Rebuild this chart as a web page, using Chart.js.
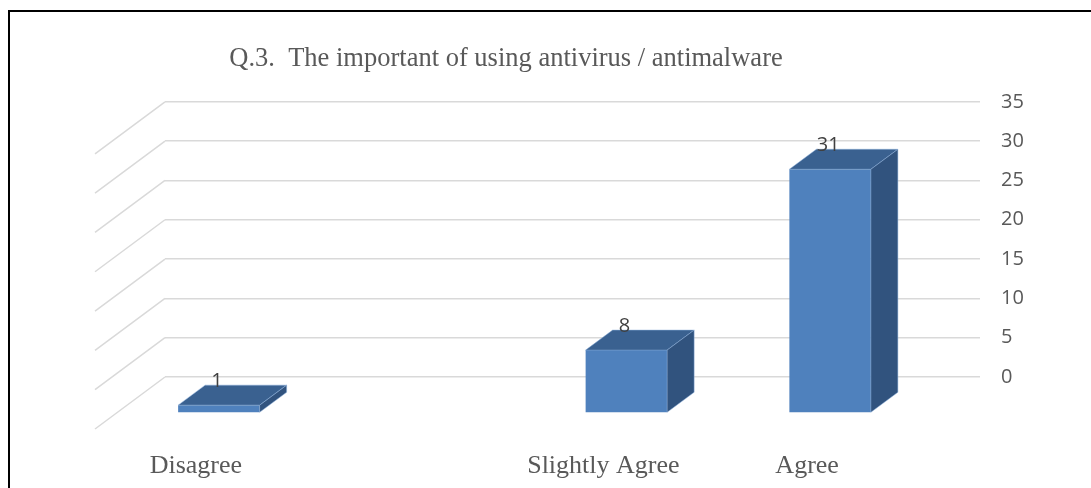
<!DOCTYPE html>
<html>
<head>
<meta charset="utf-8">
<script src="https://cdn.jsdelivr.net/npm/chart.js@4.4.1/dist/chart.umd.min.js"></script>
<style>
    html, body { margin: 0; padding: 0; background: #fff; overflow: hidden; }
    #wrap { position: relative; width: 1091px; height: 488px; }
    #frame {
        position: absolute; left: 8px; top: 10px; width: 1200px; height: 600px;
        border-left: 2px solid #000; border-top: 2px solid #000; pointer-events: none;
    }
</style>
</head>
<body>
<div id="wrap">
    <canvas id="chart" width="1091" height="488"></canvas>
    <div id="frame"></div>
</div>
<script>
// Q.3 survey answers
const categories = ['Disagree', '', 'Slightly Agree', 'Agree'];
const answerCounts = [1, null, 8, 31];
const yTicks = [0, 5, 10, 15, 20, 25, 30, 35];

// 3D look: front face shift from the back wall, and bar depth
const FRONT_DX = -48, FRONT_DY = 36;
const DEPTH_DX = 27, DEPTH_DY = -20;
const FLOOR_DX = -70, FLOOR_DY = 52;

const wallLines = {
    id: 'wallLines',
    beforeDatasetsDraw(chart) {
        const ctx = chart.ctx;
        const yScale = chart.scales.y;
        const left = chart.chartArea.left;
        ctx.save();
        ctx.strokeStyle = '#d9d9d9';
        ctx.lineWidth = 1.5;
        yTicks.forEach(v => {
            const y = yScale.getPixelForValue(v);
            ctx.beginPath();
            ctx.moveTo(left, y);
            ctx.lineTo(left + FLOOR_DX, y + FLOOR_DY);
            ctx.stroke();
        });
        ctx.restore();
        // shift bars towards the front of the floor
        ctx.save();
        ctx.translate(FRONT_DX, FRONT_DY);
    },
    afterDatasetsDraw(chart) {
        const ctx = chart.ctx;
        const meta = chart.getDatasetMeta(0);
        meta.data.forEach((bar, i) => {
            if (answerCounts[i] === null) return;
            const { x, y, base, width } = bar.getProps(['x', 'y', 'base', 'width'], true);
            const l = x - width / 2, r = x + width / 2;

            ctx.strokeStyle = 'rgba(140,175,220,0.5)';
            ctx.lineWidth = 1;
            // top face
            ctx.fillStyle = '#3a6190';
            ctx.beginPath();
            ctx.moveTo(l, y);
            ctx.lineTo(r, y);
            ctx.lineTo(r + DEPTH_DX, y + DEPTH_DY);
            ctx.lineTo(l + DEPTH_DX, y + DEPTH_DY);
            ctx.closePath();
            ctx.fill();
            ctx.stroke();
            // side face
            ctx.fillStyle = '#31537e';
            ctx.beginPath();
            ctx.moveTo(r, y);
            ctx.lineTo(r + DEPTH_DX, y + DEPTH_DY);
            ctx.lineTo(r + DEPTH_DX, base + DEPTH_DY);
            ctx.lineTo(r, base);
            ctx.closePath();
            ctx.fill();
            ctx.stroke();

            // value label
            ctx.fillStyle = '#404040';
            ctx.font = '20px "Open Sans"';
            ctx.textAlign = 'center';
            ctx.textBaseline = 'middle';
            ctx.fillText(String(answerCounts[i]), x - 2, y - 24);
        });
        ctx.restore();
    }
};

const ctx = document.getElementById('chart').getContext('2d');
new Chart(ctx, {
    type: 'bar',
    data: {
        labels: categories,
        datasets: [{
            data: answerCounts,
            backgroundColor: '#4f81bd',
            borderWidth: 0,
            barPercentage: 0.4,
            categoryPercentage: 1.0,
            clip: false,
            yAxisID: 'y'
        }]
    },
    options: {
        responsive: false,
        animation: false,
        layout: { padding: { left: -28, right: 51, top: 0, bottom: 0 } },
        plugins: {
            legend: { display: false },
            tooltip: { enabled: false },
            title: {
                display: true,
                text: 'Q.3.  The important of using antivirus / antimalware',
                color: '#595959',
                font: { family: '"Liberation Serif"', size: 26.5, weight: 'normal' },
                padding: { top: 43, bottom: 27 }
            }
        },
        scales: {
            x: {
                grid: { display: false },
                border: { display: false },
                ticks: {
                    color: '#595959',
                    font: { family: '"Liberation Serif"', size: 26 },
                    labelOffset: -71,
                    padding: 66,
                    maxRotation: 0,
                    autoSkip: false
                },
                afterFit(scale) { scale.height = 111; }
            },
            y: {
                position: 'right',
                min: 0,
                max: 35,
                grid: { color: '#d9d9d9', lineWidth: 1.5, drawTicks: false },
                border: { display: false },
                ticks: {
                    stepSize: 5,
                    color: '#595959',
                    font: { family: '"Open Sans"', size: 20 },
                    padding: 21
                },
                afterFit(scale) { scale.width = 60; }
            },
            yLeft: {
                position: 'left',
                grid: { display: false },
                border: { display: false },
                ticks: { display: false },
                afterFit(scale) { scale.width = 193; }
            }
        }
    },
    plugins: [wallLines]
});
</script>
</body>
</html>
